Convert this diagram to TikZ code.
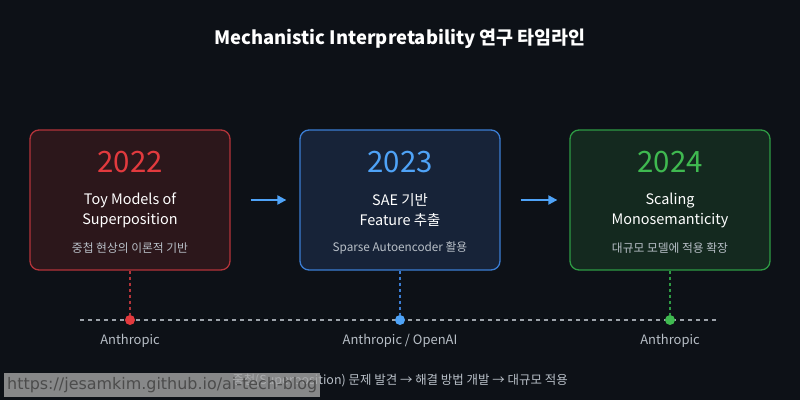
\documentclass[tikz,border=0pt]{standalone}
\usepackage{fontspec}
\setmainfont{Noto Sans CJK KR}
\newfontfamily\urlfont{DejaVu Sans}
\usetikzlibrary{arrows.meta}
\definecolor{bgdark}{HTML}{0D1117}
\definecolor{redline}{HTML}{B3343A}
\definecolor{redfill}{HTML}{2C171B}
\definecolor{redyear}{HTML}{E23A3E}
\definecolor{blueline}{HTML}{3B7DD3}
\definecolor{bluefill}{HTML}{172338}
\definecolor{blueyear}{HTML}{4FA3F7}
\definecolor{greenline}{HTML}{2E9A44}
\definecolor{greenfill}{HTML}{14291F}
\definecolor{greenyear}{HTML}{3FB950}
\definecolor{softgray}{HTML}{B8BFC7}
\tikzset{
  yearbox/.style={draw, line width=1.3bp, rounded corners=9bp, minimum width=200bp, minimum height=140bp},
  yeartext/.style={font=\fontsize{29.5}{32}\selectfont},
  headtext/.style={text=white, align=center, font=\fontsize{14.5}{20}\selectfont},
  subtext/.style={text=softgray, font=\fontsize{11.8}{13}\selectfont},
  orgtext/.style={text=softgray, font=\fontsize{13}{15}\selectfont},
  linkdash/.style={line width=1.5bp, dash pattern=on 3bp off 3bp}
}
\begin{document}
\begin{tikzpicture}[x=1bp,y=1bp]
  \fill[bgdark] (0,0) rectangle (800,400);
  \useasboundingbox (0,0) rectangle (800,400);
  \node[text=white, font=\bfseries\fontsize{18.5}{22}\selectfont] (title) at (400,361) {Mechanistic Interpretability 연구 타임라인};

  % year boxes
  \node[yearbox, draw=redline, fill=redfill] (b1) at (130,200) {};
  \node[yearbox, draw=blueline, fill=bluefill] (b2) at (400,200) {};
  \node[yearbox, draw=greenline, fill=greenfill] (b3) at (670,200) {};

  \node[yeartext, text=redyear] (y1) at (130,238) {2022};
  \node[headtext] (h1) at (130,190) {Toy Models of\\Superposition};
  \node[subtext] (s1) at (130,152) {중첩 현상의 이론적 기반};

  \node[yeartext, text=blueyear] (y2) at (400,238) {2023};
  \node[headtext] (h2) at (400,190) {SAE 기반\\Feature 추출};
  \node[subtext] (s2) at (400,152) {Sparse Autoencoder 활용};

  \node[yeartext, text=greenyear] (y3) at (670,238) {2024};
  \node[headtext] (h3) at (670,190) {Scaling\\Monosemanticity};
  \node[subtext] (s3) at (670,152) {대규모 모델에 적용 확장};

  \draw[-{Triangle[length=9bp,width=9bp]}, blueyear, line width=2bp, shorten <=20bp, shorten >=13bp] (b1) -- (b2);
  \draw[-{Triangle[length=9bp,width=9bp]}, blueyear, line width=2bp, shorten <=20bp, shorten >=12bp] (b2) -- (b3);

  % timeline
  \coordinate (tl) at (80,80);
  \coordinate (tr) at (716,80);
  \draw[softgray!85!black, line width=1.5bp, dash pattern=on 4bp off 4bp] (tl) -- (tr);
  \node[circle, fill=redyear, minimum size=10bp, inner sep=0pt] (d1) at (130,80) {};
  \node[circle, fill=blueyear, minimum size=10bp, inner sep=0pt] (d2) at (400,80) {};
  \node[circle, fill=greenyear, minimum size=10bp, inner sep=0pt] (d3) at (670,80) {};
  \draw[linkdash, redline] (b1.south) -- (d1);
  \draw[linkdash, blueline] (b2.south) -- (d2);
  \draw[linkdash, greenline] (b3.south) -- (d3);

  \node[orgtext] (o1) at (130,59) {Anthropic};
  \node[orgtext] (o2) at (400,59) {Anthropic / OpenAI};
  \node[orgtext] (o3) at (670,59) {Anthropic};

  \node[subtext, font=\fontsize{12.5}{14}\selectfont] (note) at (400,19) {중첩(Superposition) 문제 발견 → 해결 방법 개발 → 대규모 적용};

  % watermark
  \node[fill=white!65!black, fill opacity=0.8, text opacity=1, text=black!70, anchor=west, inner xsep=3bp, minimum height=24bp, font=\urlfont\fontsize{16}{18}\selectfont] (url) at (4,15) {https://jesamkim.github.io/ai-tech-blog};
\end{tikzpicture}
\end{document}
